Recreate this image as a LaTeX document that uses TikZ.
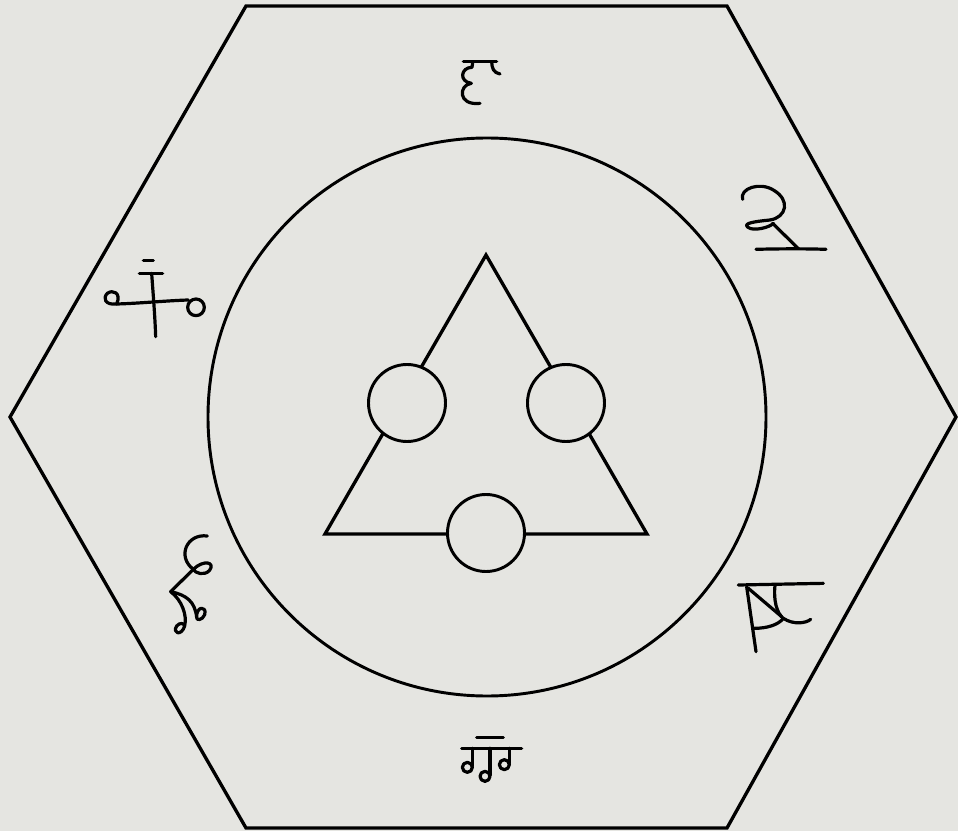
\documentclass[tikz,border=0pt]{standalone}
\usepackage{tikz}

\definecolor{paper}{RGB}{229,229,225}
\tikzset{
  outline/.style={line width=2.5pt, line join=miter},
  ring/.style={line width=2.2pt, fill=paper},
  sigil/.style={line width=2.4pt, line cap=round, line join=round}
}

\begin{document}
\begin{tikzpicture}[x=0.75pt, y=-0.75pt]
      % paper
      \fill[paper] (0,0) rectangle (958,831);
      \useasboundingbox (0,0) rectangle (958,831);
      % hexagon
      \coordinate (hexL) at (10,417);
      \coordinate (hexTL) at (246,6);
      \coordinate (hexTR) at (727,6);
      \coordinate (hexR) at (956,417);
      \coordinate (hexBR) at (727,828);
      \coordinate (hexBL) at (246,828);
      \draw[outline] (hexL) -- (hexTL) -- (hexTR) -- (hexR) -- (hexBR) -- (hexBL) -- cycle;
      % big circle
      \coordinate (centre) at (487,417);
      \draw[ring, fill=none] (centre) circle (279);
      % triangle
      \coordinate (apex) at (486,255);
      \coordinate (baseL) at (325,534);
      \coordinate (baseR) at (647,534);
      \draw[outline] (apex) -- (baseL) -- (baseR) -- cycle;
      % small circles on the sides
      \foreach \c in {(407,403),(566,403),(486,533)}
        \draw[ring] \c circle (38.5);
      % top sigil
      \begin{scope}[shift={(430,50)}, scale=1/3, sigil]
        \draw (100,35) -- (200,35);
        \draw (185,35) .. controls (186,55) and (190,68) .. (210,72);
        \draw (128,38) -- (126,52) .. controls (92,52) and (86,95) .. (124,100)
              .. controls (86,104) and (82,168) .. (150,160);
      \end{scope}
      % upper right sigil
      \begin{scope}[shift={(720,170)}, scale=1/3, sigil]
        \draw (108,238) .. controls (180,236) and (260,236) .. (318,238);
        \draw (68,88) .. controls (58,55) and (120,35) .. (160,60)
              .. controls (212,90) and (200,142) .. (150,150)
              .. controls (100,155) and (68,160) .. (84,172)
              .. controls (100,185) and (150,172) .. (160,160);
        \draw (158,160) -- (235,236);
      \end{scope}
      % upper left sigil
      \begin{scope}[shift={(90,240)}, scale=1/3, sigil]
        \draw (160,62) -- (190,62);
        \draw (148,100) -- (218,100);
        \draw (185,100) .. controls (190,170) and (195,230) .. (197,290);
        \draw (80,192) .. controls (150,190) and (230,182) .. (295,180);
        \draw (80,192) .. controls (95,158) and (68,148) .. (52,160)
              .. controls (38,174) and (44,196) .. (80,192);
        \draw (318,202) circle (25);
      \end{scope}
      % lower left sigil
      \begin{scope}[shift={(150,520)}, scale=1/3, sigil]
        \draw (172,48) .. controls (110,40) and (80,110) .. (130,148);
        \draw (130,148) .. controls (160,118) and (198,126) .. (178,152)
              .. controls (162,168) and (136,160) .. (130,148);
        \draw (130,148) -- (62,215);
        \draw (62,215) .. controls (110,225) and (135,245) .. (140,292)
              .. controls (138,258) and (172,256) .. (164,284)
              .. controls (157,302) and (138,302) .. (140,292);
        \draw (62,215) .. controls (95,240) and (112,285) .. (104,318)
              .. controls (94,350) and (66,340) .. (80,318)
              .. controls (90,306) and (102,310) .. (104,318);
      \end{scope}
      % lower right sigil
      \begin{scope}[shift={(720,560)}, scale=1/3, sigil]
        \draw (55,75) -- (310,70);
        \draw (80,80) -- (108,275);
        \draw (85,85) -- (185,170);
        \draw (165,75) .. controls (160,120) and (170,160) .. (190,175)
              .. controls (220,195) and (258,190) .. (272,178);
        \draw (103,205) .. controls (140,205) and (175,195) .. (190,175);
      \end{scope}
      % bottom sigil
      \begin{scope}[shift={(430,720)}, scale=1/3, sigil]
        \draw (140,52) -- (220,52);
        \draw (95,85) -- (275,85);
        \foreach \sx/\sy in {127/138, 180/165, 238/130} {
          \draw (\sx,85) -- (\sx,\sy);
          \draw (\sx-15,\sy+4) circle (15);
        }
      \end{scope}
\end{tikzpicture}
\end{document}
